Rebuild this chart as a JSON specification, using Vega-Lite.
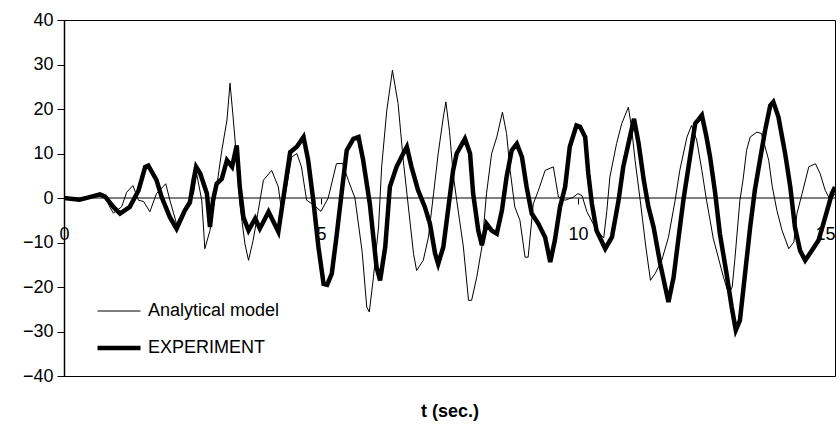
{
  "$schema": "https://vega.github.io/schema/vega-lite/v6.json",
  "width": 771,
  "height": 356,
  "autosize": {"type": "none"},
  "padding": {"left": 64, "top": 20, "right": 5, "bottom": 51},
  "background": "white",
  "config": {
    "view": {"stroke": "black", "strokeWidth": 1},
    "font": "Liberation Sans"
  },
  "datasets": {
    "zero": [{"z": 0}],
    "curves": [
      {"t":0,"v":0,"s":"Analytical model"},{"t":0.3,"v":-0.3,"s":"Analytical model"},{"t":0.5,"v":0.3,"s":"Analytical model"},{"t":0.7,"v":0.8,"s":"Analytical model"},{"t":0.8,"v":0.3,"s":"Analytical model"},{"t":0.89,"v":-2,"s":"Analytical model"},{"t":0.96,"v":-3.4,"s":"Analytical model"},{"t":1.12,"v":-2,"s":"Analytical model"},{"t":1.22,"v":1.3,"s":"Analytical model"},{"t":1.34,"v":2.8,"s":"Analytical model"},{"t":1.45,"v":-0.5,"s":"Analytical model"},{"t":1.55,"v":-0.8,"s":"Analytical model"},{"t":1.67,"v":-3.1,"s":"Analytical model"},{"t":1.8,"v":1,"s":"Analytical model"},{"t":1.98,"v":3.2,"s":"Analytical model"},{"t":2.06,"v":-0.5,"s":"Analytical model"},{"t":2.19,"v":-5.8,"s":"Analytical model"},{"t":2.39,"v":-1.3,"s":"Analytical model"},{"t":2.52,"v":1,"s":"Analytical model"},{"t":2.58,"v":5.5,"s":"Analytical model"},{"t":2.68,"v":-0.5,"s":"Analytical model"},{"t":2.74,"v":-11.4,"s":"Analytical model"},{"t":2.84,"v":-7.3,"s":"Analytical model"},{"t":2.97,"v":2.5,"s":"Analytical model"},{"t":3.07,"v":10.7,"s":"Analytical model"},{"t":3.17,"v":17.5,"s":"Analytical model"},{"t":3.23,"v":25.8,"s":"Analytical model"},{"t":3.29,"v":18.2,"s":"Analytical model"},{"t":3.36,"v":8.5,"s":"Analytical model"},{"t":3.42,"v":-1.3,"s":"Analytical model"},{"t":3.52,"v":-10.3,"s":"Analytical model"},{"t":3.59,"v":-14,"s":"Analytical model"},{"t":3.68,"v":-9.5,"s":"Analytical model"},{"t":3.78,"v":-2.8,"s":"Analytical model"},{"t":3.88,"v":4,"s":"Analytical model"},{"t":4.04,"v":6.2,"s":"Analytical model"},{"t":4.17,"v":2.5,"s":"Analytical model"},{"t":4.24,"v":-3.5,"s":"Analytical model"},{"t":4.33,"v":2.5,"s":"Analytical model"},{"t":4.43,"v":9.2,"s":"Analytical model"},{"t":4.53,"v":10,"s":"Analytical model"},{"t":4.62,"v":7,"s":"Analytical model"},{"t":4.72,"v":-0.5,"s":"Analytical model"},{"t":4.85,"v":-1.5,"s":"Analytical model"},{"t":5.0,"v":-3,"s":"Analytical model"},{"t":5.14,"v":0,"s":"Analytical model"},{"t":5.3,"v":7.7,"s":"Analytical model"},{"t":5.42,"v":7.8,"s":"Analytical model"},{"t":5.53,"v":4,"s":"Analytical model"},{"t":5.66,"v":0,"s":"Analytical model"},{"t":5.8,"v":-12,"s":"Analytical model"},{"t":5.89,"v":-24.5,"s":"Analytical model"},{"t":5.94,"v":-25.6,"s":"Analytical model"},{"t":6.02,"v":-17.8,"s":"Analytical model"},{"t":6.12,"v":-6.5,"s":"Analytical model"},{"t":6.18,"v":7,"s":"Analytical model"},{"t":6.28,"v":19.7,"s":"Analytical model"},{"t":6.39,"v":28.7,"s":"Analytical model"},{"t":6.5,"v":21.2,"s":"Analytical model"},{"t":6.6,"v":8.5,"s":"Analytical model"},{"t":6.7,"v":-2,"s":"Analytical model"},{"t":6.8,"v":-12.5,"s":"Analytical model"},{"t":6.86,"v":-16.3,"s":"Analytical model"},{"t":6.99,"v":-14,"s":"Analytical model"},{"t":7.09,"v":-8.8,"s":"Analytical model"},{"t":7.19,"v":1,"s":"Analytical model"},{"t":7.28,"v":10,"s":"Analytical model"},{"t":7.38,"v":18.2,"s":"Analytical model"},{"t":7.43,"v":21.6,"s":"Analytical model"},{"t":7.5,"v":15,"s":"Analytical model"},{"t":7.57,"v":5.5,"s":"Analytical model"},{"t":7.64,"v":-0.5,"s":"Analytical model"},{"t":7.77,"v":-11,"s":"Analytical model"},{"t":7.87,"v":-23,"s":"Analytical model"},{"t":7.93,"v":-23,"s":"Analytical model"},{"t":8.03,"v":-17.8,"s":"Analytical model"},{"t":8.13,"v":-11,"s":"Analytical model"},{"t":8.22,"v":1,"s":"Analytical model"},{"t":8.32,"v":10,"s":"Analytical model"},{"t":8.42,"v":13.7,"s":"Analytical model"},{"t":8.53,"v":19.3,"s":"Analytical model"},{"t":8.61,"v":14.5,"s":"Analytical model"},{"t":8.68,"v":6.2,"s":"Analytical model"},{"t":8.77,"v":-2,"s":"Analytical model"},{"t":8.87,"v":-5,"s":"Analytical model"},{"t":8.97,"v":-13.3,"s":"Analytical model"},{"t":9.03,"v":-13.3,"s":"Analytical model"},{"t":9.13,"v":-1.3,"s":"Analytical model"},{"t":9.23,"v":1.7,"s":"Analytical model"},{"t":9.36,"v":6.2,"s":"Analytical model"},{"t":9.52,"v":7,"s":"Analytical model"},{"t":9.62,"v":0.2,"s":"Analytical model"},{"t":9.75,"v":-0.5,"s":"Analytical model"},{"t":9.91,"v":0.2,"s":"Analytical model"},{"t":10.0,"v":1,"s":"Analytical model"},{"t":10.08,"v":0.5,"s":"Analytical model"},{"t":10.17,"v":-3,"s":"Analytical model"},{"t":10.35,"v":-7,"s":"Analytical model"},{"t":10.5,"v":-9,"s":"Analytical model"},{"t":10.56,"v":-3,"s":"Analytical model"},{"t":10.62,"v":4.7,"s":"Analytical model"},{"t":10.75,"v":12.2,"s":"Analytical model"},{"t":10.85,"v":16.7,"s":"Analytical model"},{"t":10.98,"v":20.4,"s":"Analytical model"},{"t":11.04,"v":16,"s":"Analytical model"},{"t":11.11,"v":8.5,"s":"Analytical model"},{"t":11.21,"v":-0.5,"s":"Analytical model"},{"t":11.32,"v":-11,"s":"Analytical model"},{"t":11.41,"v":-18.5,"s":"Analytical model"},{"t":11.5,"v":-17,"s":"Analytical model"},{"t":11.63,"v":-14,"s":"Analytical model"},{"t":11.76,"v":-8.8,"s":"Analytical model"},{"t":11.89,"v":-0.5,"s":"Analytical model"},{"t":11.98,"v":6.2,"s":"Analytical model"},{"t":12.12,"v":13.7,"s":"Analytical model"},{"t":12.21,"v":16.3,"s":"Analytical model"},{"t":12.31,"v":13,"s":"Analytical model"},{"t":12.41,"v":6.2,"s":"Analytical model"},{"t":12.5,"v":-0.5,"s":"Analytical model"},{"t":12.57,"v":-5,"s":"Analytical model"},{"t":12.63,"v":-9,"s":"Analytical model"},{"t":12.83,"v":-17.8,"s":"Analytical model"},{"t":12.93,"v":-21.5,"s":"Analytical model"},{"t":13.0,"v":-20,"s":"Analytical model"},{"t":13.05,"v":-14,"s":"Analytical model"},{"t":13.15,"v":-0.5,"s":"Analytical model"},{"t":13.21,"v":4,"s":"Analytical model"},{"t":13.28,"v":10.7,"s":"Analytical model"},{"t":13.35,"v":13.7,"s":"Analytical model"},{"t":13.48,"v":14.8,"s":"Analytical model"},{"t":13.57,"v":14.5,"s":"Analytical model"},{"t":13.64,"v":11.5,"s":"Analytical model"},{"t":13.71,"v":8.5,"s":"Analytical model"},{"t":13.78,"v":2.5,"s":"Analytical model"},{"t":13.87,"v":-2.8,"s":"Analytical model"},{"t":13.97,"v":-7.3,"s":"Analytical model"},{"t":14.1,"v":-11.4,"s":"Analytical model"},{"t":14.2,"v":-9.9,"s":"Analytical model"},{"t":14.26,"v":-3.5,"s":"Analytical model"},{"t":14.36,"v":1,"s":"Analytical model"},{"t":14.49,"v":7,"s":"Analytical model"},{"t":14.62,"v":7.7,"s":"Analytical model"},{"t":14.71,"v":5.5,"s":"Analytical model"},{"t":14.81,"v":1.7,"s":"Analytical model"},{"t":14.91,"v":-0.5,"s":"Analytical model"},{"t":15.0,"v":1,"s":"Analytical model"},
      {"t":0,"v":0,"s":"EXPERIMENT"},{"t":0.3,"v":-0.4,"s":"EXPERIMENT"},{"t":0.5,"v":0.2,"s":"EXPERIMENT"},{"t":0.7,"v":0.8,"s":"EXPERIMENT"},{"t":0.8,"v":0.3,"s":"EXPERIMENT"},{"t":0.96,"v":-2,"s":"EXPERIMENT"},{"t":1.09,"v":-3.5,"s":"EXPERIMENT"},{"t":1.28,"v":-2,"s":"EXPERIMENT"},{"t":1.45,"v":1.7,"s":"EXPERIMENT"},{"t":1.58,"v":7,"s":"EXPERIMENT"},{"t":1.64,"v":7.3,"s":"EXPERIMENT"},{"t":1.8,"v":4,"s":"EXPERIMENT"},{"t":1.9,"v":0.2,"s":"EXPERIMENT"},{"t":2.06,"v":-4.3,"s":"EXPERIMENT"},{"t":2.19,"v":-6.9,"s":"EXPERIMENT"},{"t":2.35,"v":-2.8,"s":"EXPERIMENT"},{"t":2.45,"v":-1,"s":"EXPERIMENT"},{"t":2.52,"v":4,"s":"EXPERIMENT"},{"t":2.57,"v":7,"s":"EXPERIMENT"},{"t":2.65,"v":5.5,"s":"EXPERIMENT"},{"t":2.78,"v":1,"s":"EXPERIMENT"},{"t":2.84,"v":-6.5,"s":"EXPERIMENT"},{"t":2.9,"v":-0.5,"s":"EXPERIMENT"},{"t":2.97,"v":3.2,"s":"EXPERIMENT"},{"t":3.07,"v":4.3,"s":"EXPERIMENT"},{"t":3.17,"v":8.5,"s":"EXPERIMENT"},{"t":3.27,"v":7,"s":"EXPERIMENT"},{"t":3.36,"v":11.8,"s":"EXPERIMENT"},{"t":3.42,"v":2.5,"s":"EXPERIMENT"},{"t":3.49,"v":-4.3,"s":"EXPERIMENT"},{"t":3.59,"v":-7.3,"s":"EXPERIMENT"},{"t":3.72,"v":-4.6,"s":"EXPERIMENT"},{"t":3.81,"v":-6.9,"s":"EXPERIMENT"},{"t":3.98,"v":-3.1,"s":"EXPERIMENT"},{"t":4.17,"v":-7.6,"s":"EXPERIMENT"},{"t":4.3,"v":2.5,"s":"EXPERIMENT"},{"t":4.4,"v":10.3,"s":"EXPERIMENT"},{"t":4.53,"v":11.5,"s":"EXPERIMENT"},{"t":4.66,"v":13.7,"s":"EXPERIMENT"},{"t":4.75,"v":8.5,"s":"EXPERIMENT"},{"t":4.85,"v":-0.5,"s":"EXPERIMENT"},{"t":4.95,"v":-11,"s":"EXPERIMENT"},{"t":5.05,"v":-19.3,"s":"EXPERIMENT"},{"t":5.12,"v":-19.5,"s":"EXPERIMENT"},{"t":5.21,"v":-17,"s":"EXPERIMENT"},{"t":5.3,"v":-8.8,"s":"EXPERIMENT"},{"t":5.4,"v":1,"s":"EXPERIMENT"},{"t":5.5,"v":10.7,"s":"EXPERIMENT"},{"t":5.63,"v":13.3,"s":"EXPERIMENT"},{"t":5.73,"v":13.7,"s":"EXPERIMENT"},{"t":5.82,"v":8.5,"s":"EXPERIMENT"},{"t":5.95,"v":-1.3,"s":"EXPERIMENT"},{"t":6.08,"v":-15.5,"s":"EXPERIMENT"},{"t":6.15,"v":-18.5,"s":"EXPERIMENT"},{"t":6.25,"v":-11,"s":"EXPERIMENT"},{"t":6.34,"v":2.5,"s":"EXPERIMENT"},{"t":6.47,"v":7,"s":"EXPERIMENT"},{"t":6.6,"v":10,"s":"EXPERIMENT"},{"t":6.67,"v":11.5,"s":"EXPERIMENT"},{"t":6.76,"v":7,"s":"EXPERIMENT"},{"t":6.89,"v":1.7,"s":"EXPERIMENT"},{"t":7.02,"v":-2,"s":"EXPERIMENT"},{"t":7.12,"v":-5.8,"s":"EXPERIMENT"},{"t":7.22,"v":-12.5,"s":"EXPERIMENT"},{"t":7.28,"v":-14.8,"s":"EXPERIMENT"},{"t":7.38,"v":-11,"s":"EXPERIMENT"},{"t":7.48,"v":-2,"s":"EXPERIMENT"},{"t":7.57,"v":6.2,"s":"EXPERIMENT"},{"t":7.64,"v":10,"s":"EXPERIMENT"},{"t":7.8,"v":13.3,"s":"EXPERIMENT"},{"t":7.9,"v":10,"s":"EXPERIMENT"},{"t":7.96,"v":1,"s":"EXPERIMENT"},{"t":8.06,"v":-7.3,"s":"EXPERIMENT"},{"t":8.13,"v":-10.6,"s":"EXPERIMENT"},{"t":8.22,"v":-5.8,"s":"EXPERIMENT"},{"t":8.32,"v":-7.3,"s":"EXPERIMENT"},{"t":8.42,"v":-8,"s":"EXPERIMENT"},{"t":8.52,"v":-2.8,"s":"EXPERIMENT"},{"t":8.61,"v":4.7,"s":"EXPERIMENT"},{"t":8.71,"v":10.7,"s":"EXPERIMENT"},{"t":8.81,"v":12.2,"s":"EXPERIMENT"},{"t":8.91,"v":9.2,"s":"EXPERIMENT"},{"t":9.0,"v":2.5,"s":"EXPERIMENT"},{"t":9.1,"v":-3.5,"s":"EXPERIMENT"},{"t":9.23,"v":-5.8,"s":"EXPERIMENT"},{"t":9.36,"v":-8.8,"s":"EXPERIMENT"},{"t":9.46,"v":-14.4,"s":"EXPERIMENT"},{"t":9.55,"v":-9.5,"s":"EXPERIMENT"},{"t":9.65,"v":-2,"s":"EXPERIMENT"},{"t":9.75,"v":2.5,"s":"EXPERIMENT"},{"t":9.84,"v":11.5,"s":"EXPERIMENT"},{"t":9.97,"v":16.3,"s":"EXPERIMENT"},{"t":10.04,"v":16,"s":"EXPERIMENT"},{"t":10.14,"v":13.7,"s":"EXPERIMENT"},{"t":10.2,"v":5.5,"s":"EXPERIMENT"},{"t":10.27,"v":-1.3,"s":"EXPERIMENT"},{"t":10.36,"v":-7.3,"s":"EXPERIMENT"},{"t":10.53,"v":-11.4,"s":"EXPERIMENT"},{"t":10.66,"v":-8.8,"s":"EXPERIMENT"},{"t":10.79,"v":-0.5,"s":"EXPERIMENT"},{"t":10.88,"v":7,"s":"EXPERIMENT"},{"t":11.01,"v":13.7,"s":"EXPERIMENT"},{"t":11.09,"v":17.8,"s":"EXPERIMENT"},{"t":11.18,"v":12.2,"s":"EXPERIMENT"},{"t":11.28,"v":4,"s":"EXPERIMENT"},{"t":11.37,"v":-2,"s":"EXPERIMENT"},{"t":11.47,"v":-6.5,"s":"EXPERIMENT"},{"t":11.6,"v":-14.8,"s":"EXPERIMENT"},{"t":11.76,"v":-23.4,"s":"EXPERIMENT"},{"t":11.86,"v":-17.8,"s":"EXPERIMENT"},{"t":11.95,"v":-9.5,"s":"EXPERIMENT"},{"t":12.05,"v":-0.5,"s":"EXPERIMENT"},{"t":12.15,"v":7,"s":"EXPERIMENT"},{"t":12.28,"v":16.7,"s":"EXPERIMENT"},{"t":12.41,"v":18.6,"s":"EXPERIMENT"},{"t":12.5,"v":13.7,"s":"EXPERIMENT"},{"t":12.57,"v":9.2,"s":"EXPERIMENT"},{"t":12.67,"v":1,"s":"EXPERIMENT"},{"t":12.76,"v":-8,"s":"EXPERIMENT"},{"t":12.89,"v":-17,"s":"EXPERIMENT"},{"t":12.99,"v":-24.5,"s":"EXPERIMENT"},{"t":13.07,"v":-29.7,"s":"EXPERIMENT"},{"t":13.15,"v":-27.5,"s":"EXPERIMENT"},{"t":13.25,"v":-17,"s":"EXPERIMENT"},{"t":13.35,"v":-6.5,"s":"EXPERIMENT"},{"t":13.44,"v":1.7,"s":"EXPERIMENT"},{"t":13.54,"v":8.5,"s":"EXPERIMENT"},{"t":13.64,"v":15.2,"s":"EXPERIMENT"},{"t":13.74,"v":20.8,"s":"EXPERIMENT"},{"t":13.8,"v":21.6,"s":"EXPERIMENT"},{"t":13.9,"v":18.2,"s":"EXPERIMENT"},{"t":14.03,"v":10,"s":"EXPERIMENT"},{"t":14.13,"v":2.5,"s":"EXPERIMENT"},{"t":14.22,"v":-6.5,"s":"EXPERIMENT"},{"t":14.32,"v":-11.8,"s":"EXPERIMENT"},{"t":14.42,"v":-14,"s":"EXPERIMENT"},{"t":14.55,"v":-11.8,"s":"EXPERIMENT"},{"t":14.68,"v":-9.5,"s":"EXPERIMENT"},{"t":14.81,"v":-4.3,"s":"EXPERIMENT"},{"t":14.94,"v":1,"s":"EXPERIMENT"},{"t":15.0,"v":2.5,"s":"EXPERIMENT"}
    ]
  },
  "layer": [
    {
      "data": {"name": "curves"},
      "mark": {"type": "line", "color": "black", "clip": true},
      "encoding": {
        "x": {
          "field": "t", "type": "quantitative",
          "scale": {"domain": [0, 15], "nice": false, "zero": false},
          "axis": {
            "title": "t (sec.)", "values": [0, 5, 10, 15], "offset": -178,
            "grid": false, "domain": false, "tickSize": 6, "tickColor": "black",
            "labelPadding": 21, "labelFontSize": 18, "labelColor": "black",
            "labelFont": "Liberation Sans", "labelFlush": false, "labelOverlap": false,
            "labelAlign": {"expr": "datum.value == 15 ? 'right' : 'center'"},
            "titleFontSize": 18, "titleFontWeight": "bold", "titleColor": "black",
            "titleFont": "Liberation Sans", "titleY": 213, "titleBaseline": "middle"
          }
        },
        "y": {
          "field": "v", "type": "quantitative",
          "scale": {"domain": [-40, 40], "nice": false},
          "axis": {
            "title": null, "values": [-40, -30, -20, -10, 0, 10, 20, 30, 40],
            "grid": false, "domainColor": "black", "domainWidth": 1.5,
            "tickSize": 7, "tickColor": "black", "labelPadding": 4,
            "labelFontSize": 18, "labelColor": "black", "labelFont": "Liberation Sans"
          }
        },
        "detail": {"field": "s", "type": "nominal"},
        "order": {"field": "t", "type": "quantitative"},
        "strokeWidth": {
          "field": "s", "type": "ordinal",
          "scale": {"domain": ["Analytical model", "EXPERIMENT"], "range": [1, 4.5]},
          "legend": {
            "title": null, "orient": "none", "legendX": 31, "legendY": 281,
            "symbolType": "stroke", "symbolSize": 1849, "symbolStrokeColor": "black",
            "labelFontSize": 18, "labelColor": "black", "labelFont": "Liberation Sans",
            "labelOffset": 5, "clipHeight": 20, "rowPadding": 17, "padding": 0
          }
        }
      }
    },
    {
      "data": {"name": "zero"},
      "mark": {"type": "rule", "color": "black", "strokeWidth": 1},
      "encoding": {"y": {"field": "z", "type": "quantitative"}}
    }
  ]
}
